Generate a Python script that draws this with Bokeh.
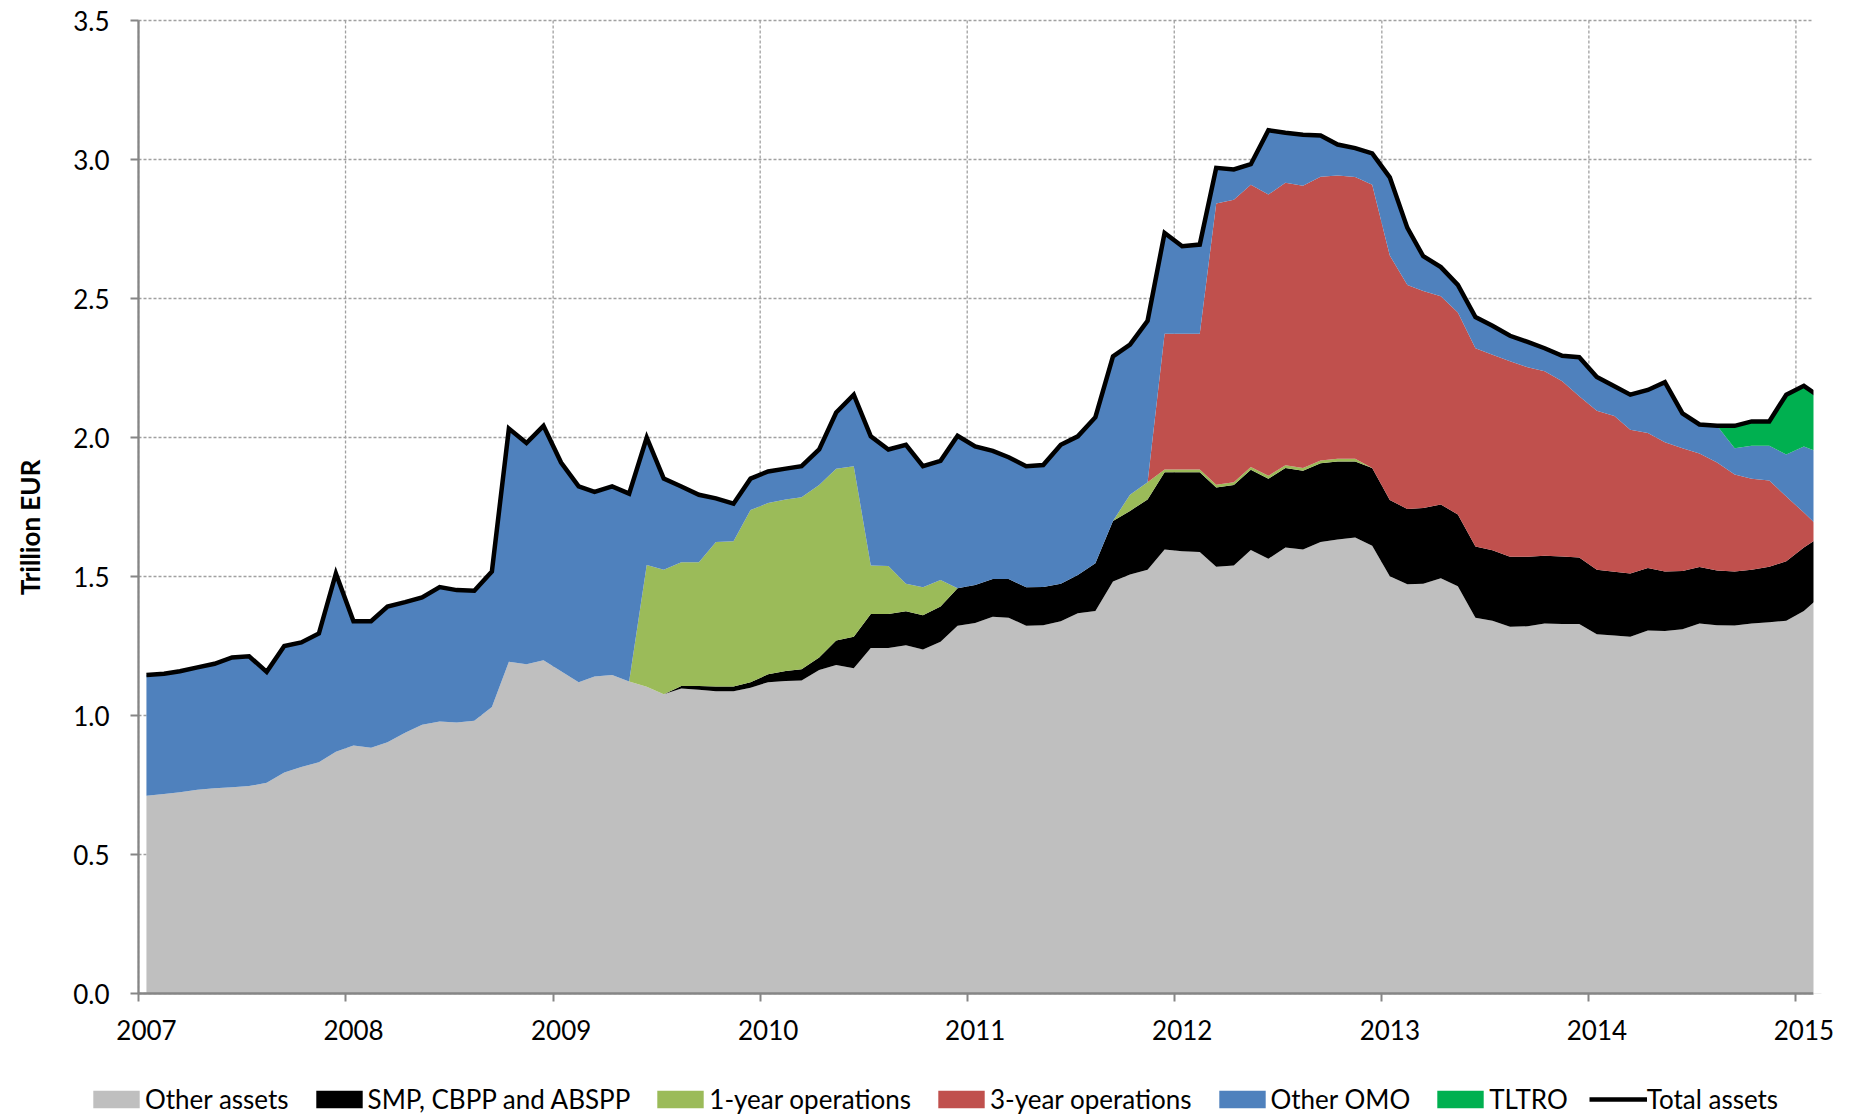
import pandas as pd
from datetime import datetime
from bokeh.plotting import figure
from bokeh.core.properties import value
from bokeh.models import (ColumnDataSource, FixedTicker, Range1d, Legend, LegendItem,
                          NumeralTickFormatter, CustomJSTickFormatter, BoxAnnotation,
                          Label, LabelSet)
from bokeh.embed import file_html
from bokeh.resources import INLINE

# Monthly observations, Jan 2007 .. Feb 2015 (trillion EUR)
months = pd.date_range("2007-01-01", periods=98, freq="MS") + pd.Timedelta(days=14)

other_assets = [
    0.711, 0.718, 0.724, 0.733, 0.738, 0.742, 0.746, 0.758, 0.795, 0.815, 0.832, 0.870,
    0.892, 0.884, 0.904, 0.938, 0.967, 0.978, 0.975, 0.981, 1.031, 1.193, 1.184, 1.199,
    1.159, 1.120, 1.140, 1.146, 1.122, 1.103, 1.076, 1.097, 1.093, 1.087, 1.087, 1.100,
    1.120, 1.124, 1.126, 1.164, 1.182, 1.170, 1.243, 1.243, 1.253, 1.237, 1.265, 1.323,
    1.333, 1.355, 1.352, 1.323, 1.325, 1.339, 1.368, 1.376, 1.482, 1.507, 1.524, 1.597,
    1.591, 1.588, 1.535, 1.540, 1.595, 1.564, 1.604, 1.597, 1.624, 1.633, 1.640, 1.611,
    1.501, 1.472, 1.474, 1.494, 1.465, 1.352, 1.341, 1.319, 1.321, 1.331, 1.329, 1.329,
    1.292, 1.288, 1.283, 1.306, 1.304, 1.310, 1.331, 1.325, 1.324, 1.331, 1.335, 1.341,
    1.376, 1.432,
]

smp_cbpp_abspp = [
    0, 0, 0, 0, 0, 0, 0, 0, 0, 0, 0, 0,
    0, 0, 0, 0, 0, 0, 0, 0, 0, 0, 0, 0,
    0, 0, 0, 0, 0, 0, 0, 0.009, 0.013, 0.017, 0.017, 0.020,
    0.028, 0.036, 0.040, 0.045, 0.088, 0.113, 0.122, 0.122, 0.122, 0.124, 0.127, 0.135,
    0.136, 0.136, 0.139, 0.138, 0.137, 0.135, 0.137, 0.172, 0.218, 0.229, 0.253, 0.278,
    0.284, 0.287, 0.285, 0.289, 0.289, 0.288, 0.286, 0.283, 0.283, 0.281, 0.274, 0.279,
    0.274, 0.271, 0.272, 0.265, 0.258, 0.256, 0.253, 0.252, 0.250, 0.244, 0.243, 0.239,
    0.232, 0.229, 0.228, 0.225, 0.214, 0.210, 0.203, 0.197, 0.194, 0.193, 0.200, 0.214,
    0.228, 0.214,
]

one_year_ops = [
    0, 0, 0, 0, 0, 0, 0, 0, 0, 0, 0, 0,
    0, 0, 0, 0, 0, 0, 0, 0, 0, 0, 0, 0,
    0, 0, 0, 0, 0, 0.438, 0.448, 0.445, 0.445, 0.520, 0.523, 0.619,
    0.616, 0.617, 0.619, 0.620, 0.618, 0.614, 0.175, 0.173, 0.099, 0.100, 0.095, 0,
    0, 0, 0, 0, 0, 0, 0, 0, 0, 0.058, 0.062, 0.010,
    0.010, 0.010, 0.010, 0.010, 0.010, 0.010, 0.010, 0.010, 0.010, 0.010, 0.010, 0,
    0, 0, 0, 0, 0, 0, 0, 0, 0, 0, 0, 0,
    0, 0, 0, 0, 0, 0, 0, 0, 0, 0, 0, 0,
    0, 0,
]

three_year_ops = [
    0, 0, 0, 0, 0, 0, 0, 0, 0, 0, 0, 0,
    0, 0, 0, 0, 0, 0, 0, 0, 0, 0, 0, 0,
    0, 0, 0, 0, 0, 0, 0, 0, 0, 0, 0, 0,
    0, 0, 0, 0, 0, 0, 0, 0, 0, 0, 0, 0,
    0, 0, 0, 0, 0, 0, 0, 0, 0, 0, 0, 0.488,
    0.488, 0.488, 1.012, 1.016, 1.015, 1.012, 1.016, 1.016, 1.021, 1.018, 1.013, 1.019,
    0.880, 0.806, 0.781, 0.749, 0.727, 0.713, 0.704, 0.703, 0.682, 0.663, 0.630, 0.580,
    0.572, 0.560, 0.517, 0.485, 0.465, 0.441, 0.408, 0.388, 0.349, 0.328, 0.310, 0.233,
    0.126, 0.023,
]

other_omo = [
    0.435, 0.432, 0.435, 0.440, 0.448, 0.467, 0.467, 0.399, 0.455, 0.448, 0.463, 0.641,
    0.447, 0.455, 0.488, 0.470, 0.458, 0.484, 0.476, 0.468, 0.487, 0.839, 0.796, 0.843,
    0.751, 0.704, 0.664, 0.678, 0.676, 0.459, 0.328, 0.273, 0.243, 0.157, 0.135, 0.113,
    0.114, 0.111, 0.112, 0.128, 0.202, 0.257, 0.464, 0.419, 0.500, 0.436, 0.429, 0.548,
    0.499, 0.461, 0.438, 0.436, 0.439, 0.500, 0.499, 0.525, 0.592, 0.540, 0.581, 0.363,
    0.315, 0.321, 0.128, 0.109, 0.074, 0.231, 0.180, 0.183, 0.148, 0.112, 0.104, 0.113,
    0.281, 0.205, 0.125, 0.105, 0.099, 0.112, 0.104, 0.092, 0.091, 0.083, 0.092, 0.141,
    0.122, 0.107, 0.126, 0.155, 0.216, 0.126, 0.105, 0.132, 0.094, 0.118, 0.125, 0.151,
    0.238, 0.274,
]

tltro = [0] * 92 + [0.081, 0.088, 0.088, 0.215, 0.218, 0.199]

total_assets = [
    1.146, 1.150, 1.159, 1.173, 1.186, 1.209, 1.213, 1.157, 1.250, 1.263, 1.295, 1.511,
    1.339, 1.339, 1.392, 1.408, 1.425, 1.462, 1.451, 1.449, 1.518, 2.032, 1.980, 2.042,
    1.910, 1.824, 1.804, 1.824, 1.798, 2.000, 1.852, 1.824, 1.794, 1.781, 1.762, 1.852,
    1.878, 1.888, 1.897, 1.957, 2.090, 2.154, 2.004, 1.957, 1.974, 1.897, 1.916, 2.006,
    1.968, 1.952, 1.929, 1.897, 1.901, 1.974, 2.004, 2.073, 2.292, 2.334, 2.420, 2.736,
    2.688, 2.694, 2.970, 2.964, 2.983, 3.105, 3.096, 3.089, 3.086, 3.054, 3.041, 3.022,
    2.936, 2.754, 2.652, 2.613, 2.549, 2.433, 2.402, 2.366, 2.344, 2.321, 2.294, 2.289,
    2.218, 2.184, 2.154, 2.171, 2.199, 2.087, 2.047, 2.042, 2.042, 2.058, 2.058, 2.154,
    2.186, 2.142,
]

series_names = ["Other assets", "SMP, CBPP and ABSPP", "1-year operations",
                "3-year operations", "Other OMO", "TLTRO"]
series_colors = ["#BFBFBF", "#000000", "#9BBB59", "#C0504D", "#4F81BD", "#00B050"]
line_name = "Total assets"
y_title = "Trillion EUR"

year_ticks = [2007, 2008, 2009, 2010, 2011, 2012, 2013, 2014, 2015]
year_labels = ["2007", "2008", "2009", "2010", "2011", "2012", "2013", "2014", "2015"]
y_ticks = [0.0, 0.5, 1.0, 1.5, 2.0, 2.5, 3.0, 3.5]
x_start, x_end = datetime(2007, 1, 1), datetime(2015, 2, 1)

FONT = "Lato"
W, H = 1850, 1116
# plot-area geometry (canvas px)
AX_LEFT, AX_RIGHT, AX_TOP, AX_BOTTOM = 138, 1813, 20, 993
TITLE_X, TITLE_CY = 29, 527
XLAB_BASELINE, XLAB_SHIFT = 1039, 8


def ms(d):
    return d.timestamp() * 1000.0


t0, t1 = ms(x_start), ms(x_end)
px_per_ms = (AX_RIGHT - AX_LEFT) / (t1 - t0)
y0, y1 = y_ticks[0], y_ticks[-1]
px_per_unit = (AX_BOTTOM - AX_TOP) / (y1 - y0)

keys = ["s0", "s1", "s2", "s3", "s4", "s5"]
source = ColumnDataSource(dict(
    date=months, s0=other_assets, s1=smp_cbpp_abspp, s2=one_year_ops,
    s3=three_year_ops, s4=other_omo, s5=tltro, total=total_assets,
))

p = figure(width=W, height=H, x_axis_type="datetime",
           output_backend="svg", toolbar_location=None,
           x_range=Range1d(t0 - AX_LEFT / px_per_ms, t1 + (W - AX_RIGHT) / px_per_ms),
           y_range=Range1d(y0 - (H - AX_BOTTOM) / px_per_unit, y1 + AX_TOP / px_per_unit),
           min_border_left=0, min_border_right=0,
           min_border_top=0, min_border_bottom=0)
p.outline_line_color = None
p.background_fill_color = "white"
p.border_fill_color = "white"
p.grid.visible = False

tick_ms = [ms(datetime(y, 1, 1)) for y in year_ticks]

# dashed gridlines limited to the plot area
GRID = dict(line_color="#A0A0A0", line_dash="3 2", line_width=1.3)
p.segment(x0=tick_ms, y0=[y0] * len(tick_ms), x1=tick_ms, y1=[y1] * len(tick_ms), **GRID)
p.segment(x0=[t0] * len(y_ticks), y0=y_ticks, x1=[t1] * len(y_ticks), y1=y_ticks, **GRID)

areas = p.varea_stack(stackers=keys, x="date", color=series_colors, source=source)
total_r = p.line(x="date", y="total", source=source, line_color="black", line_width=4.5,
                 line_join="miter")

# plot area ends at the x-range end: mask anything to its right
p.add_layout(BoxAnnotation(left=t1, bottom=y0, fill_color="white", fill_alpha=1.0,
                           line_color=None, level="annotation"))

# axes placed at the data origin
p.xaxis.fixed_location = y0
p.yaxis.fixed_location = t0
p.xaxis.bounds = (t0, t1)
p.yaxis.bounds = (y0, y1)
p.xaxis.ticker = FixedTicker(ticks=tick_ms)
p.xaxis.formatter = CustomJSTickFormatter(code="return ''")
p.yaxis.ticker = FixedTicker(ticks=y_ticks)
p.yaxis.formatter = NumeralTickFormatter(format="0.0")

for ax in (p.xaxis[0], p.yaxis[0]):
    ax.axis_line_color = "#868686"
    ax.axis_line_width = 2.3
    ax.major_tick_line_color = "#868686"
    ax.major_tick_line_width = 2
    ax.major_tick_in = 0
    ax.major_tick_out = 8
    ax.minor_tick_line_color = None
    ax.major_label_text_font = FONT
    ax.major_label_text_font_size = "26px"
    ax.major_label_text_color = "black"
p.yaxis.major_label_standoff = 21

# year labels (Excel places them slightly right of the tick)
year_src = ColumnDataSource(dict(
    x=tick_ms, y=[(AX_BOTTOM - XLAB_BASELINE) / px_per_unit] * len(tick_ms), text=year_labels))
p.add_layout(LabelSet(x="x", y="y", text="text", source=year_src, x_offset=XLAB_SHIFT,
                      text_align="center", text_baseline="alphabetic",
                      text_font=value(FONT), text_font_size=value("26px"),
                      text_color="black"))

p.add_layout(Label(x=t0, y=(AX_BOTTOM - TITLE_CY) / px_per_unit, x_offset=TITLE_X - AX_LEFT,
                   text=y_title, angle=90, angle_units="deg",
                   text_align="center", text_baseline="middle",
                   text_font=FONT, text_font_style="bold", text_font_size="26px",
                   text_color="black"))

# legend: area swatches are drawn at 80% of the glyph box
items = [LegendItem(label=n, renderers=[r]) for n, r in zip(series_names, areas)]
items.append(LegendItem(label=line_name, renderers=[total_r]))
legend = Legend(items=items, orientation="horizontal", location=(87, 1),
                glyph_width=58, glyph_height=22, label_standoff=0, spacing=21,
                padding=0, margin=0, border_line_color=None,
                background_fill_alpha=0,
                label_text_font=FONT, label_text_font_size="26px",
                label_text_color="black")
p.add_layout(legend)

open("out.html", "w").write(file_html(p, INLINE))
